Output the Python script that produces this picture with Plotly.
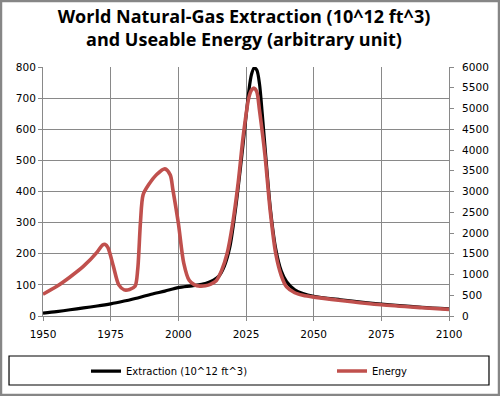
import plotly.graph_objects as go

# Extraction (10^12 ft^3), left axis
ext_years = [1950, 1955, 1960, 1965, 1970, 1975, 1980, 1985, 1990, 1995, 2000, 2005, 2010, 2013,
             2015, 2017, 2019, 2021, 2023, 2025, 2026, 2027, 2028, 2029, 2030, 2031, 2032, 2034,
             2036, 2038, 2040, 2043, 2046, 2050, 2060, 2075, 2090, 2100]
ext_vals = [9, 14, 20, 26, 32, 39, 48, 58, 70, 80, 91, 97, 104, 115,
            128, 160, 220, 335, 480, 640, 720, 775, 797, 790, 745, 650, 545, 345,
            215, 145, 110, 84, 72, 63, 52, 38, 28, 23]

# Useable energy (arbitrary unit), right axis
en_years = [1950, 1955, 1960, 1965, 1970, 1972, 1973, 1974, 1976, 1978, 1980, 1982, 1984, 1985,
            1986, 1987, 1989, 1992, 1995, 1997, 1998, 2000, 2002, 2004, 2006, 2008, 2010, 2012,
            2014, 2016, 2018, 2020, 2022, 2024, 2026, 2027, 2028, 2029, 2030, 2032, 2034, 2036,
            2038, 2040, 2043, 2046, 2050, 2060, 2075, 2090, 2100]
en_vals = [525, 710, 940, 1200, 1540, 1710, 1725, 1650, 1200, 750, 630, 640, 715, 1125,
           2250, 2925, 3160, 3410, 3545, 3400, 3040, 2240, 1275, 860, 750, 720, 730, 770,
           850, 1100, 1500, 2200, 3150, 4350, 5250, 5440, 5490, 5400, 4950, 3880, 2500, 1500,
           980, 700, 560, 500, 455, 375, 270, 200, 160]

x_ticks = [1950, 1975, 2000, 2025, 2050, 2075, 2100]

fig = go.Figure()
fig.add_trace(go.Scatter(x=ext_years, y=ext_vals, mode="lines", name="Extraction (10^12 ft^3)",
                         legend="legend", showlegend=True,
                         line=dict(color="#000000", width=3.2, shape="spline", smoothing=0.8)))
fig.add_trace(go.Scatter(x=en_years, y=en_vals, mode="lines", name="Energy", yaxis="y2",
                         legend="legend2", showlegend=True,
                         line=dict(color="#C0504D", width=3.6, shape="spline", smoothing=0.8)))

tickfont = dict(family="DejaVu Sans", size=10.5, color="#000000")
legfont = dict(family="DejaVu Sans", size=10, color="#000000")
fig.update_layout(
    width=500, height=396,
    showlegend=True,
    margin=dict(l=43, r=51, t=67, b=80, autoexpand=False),
    paper_bgcolor="white", plot_bgcolor="white",
    title=dict(text="World Natural-Gas Extraction (10^12 ft^3)<br>and Useable Energy (arbitrary unit)",
               x=0.488, xanchor="center", y=0.942, yanchor="top",
               font=dict(family="Open Sans", size=18, color="#000000", weight="bold")),
    xaxis=dict(range=[1950, 2100], tickvals=x_ticks, showgrid=True, gridcolor="#898989", gridwidth=1,
               showline=True, linecolor="#898989", ticks="outside", ticklen=4, tickcolor="#898989",
               ticklabelstandoff=4, tickfont=tickfont, zeroline=False),
    yaxis=dict(range=[0, 800], dtick=100, showgrid=True, gridcolor="#898989", gridwidth=1,
               showline=True, linecolor="#898989", ticks="outside", ticklen=4, tickcolor="#898989",
               tickfont=tickfont, zeroline=False),
    yaxis2=dict(range=[0, 6000], dtick=500, overlaying="y", side="right", showgrid=False,
                showline=True, linecolor="#898989", ticks="outside", ticklen=4, tickcolor="#898989",
                ticklabelstandoff=6, tickfont=tickfont, zeroline=False),
    legend=dict(orientation="h", xref="container", yref="container", x=0.172, y=0.063,
                xanchor="left", yanchor="middle", font=legfont, itemwidth=30,
                bgcolor="rgba(0,0,0,0)", borderwidth=0, visible=True),
    legend2=dict(orientation="h", xref="container", yref="container", x=0.664, y=0.063,
                 xanchor="left", yanchor="middle", font=legfont, itemwidth=30,
                 bgcolor="rgba(0,0,0,0)", borderwidth=0, visible=True),
    shapes=[
        dict(type="rect", xref="paper", yref="paper", x0=-0.0837, x1=1.0985, y0=-0.2771, y1=-0.1606,
             line=dict(color="#000000", width=1.2), fillcolor="rgba(0,0,0,0)", layer="above"),
        dict(type="rect", xref="paper", yref="paper", x0=-0.1035, x1=1.1232, y0=-0.3173, y1=1.265,
             line=dict(color="#868686", width=2.5), fillcolor="rgba(0,0,0,0)", layer="above"),
    ],
)

fig.write_html("out.html", config={"displayModeBar": False},
               post_script="document.body.style.margin='0';")
